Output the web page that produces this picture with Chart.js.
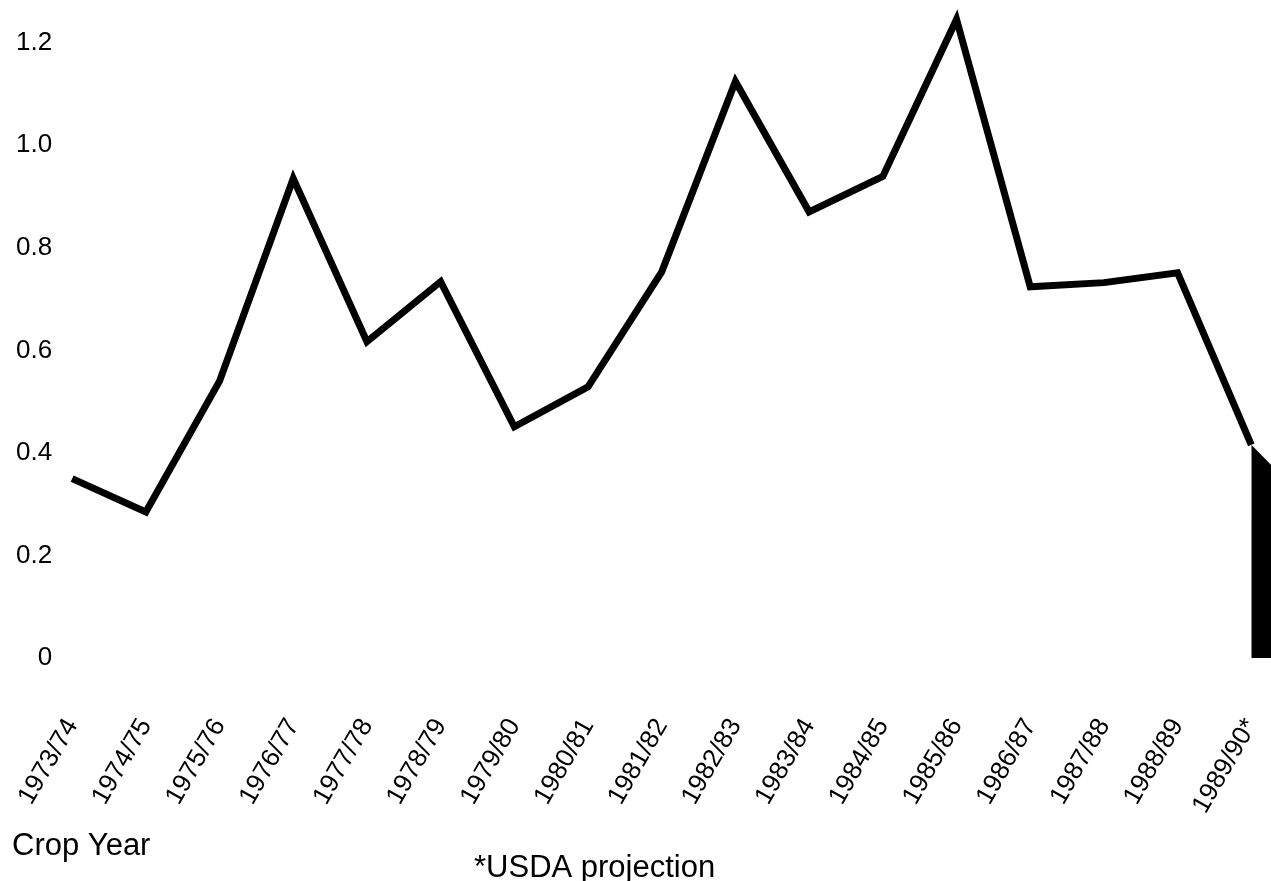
<!DOCTYPE html>
<html>
<head>
<meta charset="utf-8">
<script src="https://cdn.jsdelivr.net/npm/chart.js@4.4.1/dist/chart.umd.min.js"></script>
<style>
  html, body { margin: 0; padding: 0; background: #fff; overflow: hidden; }
  #wrap { width: 1325px; height: 881px; }
</style>
</head>
<body>
<div id="wrap"><canvas id="cropChart" width="1325" height="881"></canvas></div>
<script>
// last category is blank: the projection block runs off the right edge
const cropYears = ['1973/74', '1974/75', '1975/76', '1976/77', '1977/78', '1978/79',
    '1979/80', '1980/81', '1981/82', '1982/83', '1983/84', '1984/85', '1985/86',
    '1986/87', '1987/88', '1988/89', '1989/90*', ''];
const ratioValues = [0.35, 0.285, 0.54, 0.935, 0.617, 0.734, 0.451, 0.529, 0.753,
    1.124, 0.87, 0.939, 1.245, 0.724, 0.732, 0.751, 0.416, null];
const projectionValues = [null, null, null, null, null, null, null, null, null,
    null, null, null, null, null, null, null, 0.416, 0.27];
const yTicks = [0, 0.2, 0.4, 0.6, 0.8, 1.0, 1.2];
const xTitle = 'Crop Year';
const footNote = '*USDA projection';

const FONT = '"Liberation Sans", Arial, Helvetica, sans-serif';

const notesPlugin = {
    id: 'notes',
    afterDraw(chart) {
        const ctx = chart.ctx;
        ctx.save();
        ctx.fillStyle = '#000';
        ctx.textBaseline = 'alphabetic';
        ctx.textAlign = 'left';
        ctx.font = '31px ' + FONT;
        ctx.fillText(xTitle, 12, 855);
        ctx.fillText(footNote, 474, 877);
        ctx.restore();
    }
};

const ctx = document.getElementById('cropChart').getContext('2d');

new Chart(ctx, {
    type: 'line',
    data: {
        labels: cropYears,
        datasets: [{
            data: projectionValues,
            borderWidth: 0,
            borderColor: '#000',
            backgroundColor: '#000',
            fill: 'origin',
            pointRadius: 0,
            tension: 0
        }, {
            data: ratioValues,
            borderColor: '#000',
            borderWidth: 7,
            borderJoinStyle: 'miter',
            fill: false,
            pointRadius: 0,
            tension: 0,
            clip: false
        }]
    },
    options: {
        responsive: false,
        animation: false,
        layout: {
            padding: { left: 4, top: 0, right: 0, bottom: 58 }
        },
        plugins: {
            legend: { display: false },
            tooltip: { enabled: false }
        },
        scales: {
            x: {
                offset: false,
                grid: { display: false, drawTicks: true, tickLength: 51 },
                border: { display: false },
                afterFit: scale => {
                    // rotated labels hang left of their tick, no side padding wanted
                    scale.paddingLeft = 0;
                    scale.paddingRight = 0;
                },
                ticks: {
                    autoSkip: false,
                    minRotation: 60,
                    maxRotation: 60,
                    padding: 4,
                    color: '#000',
                    font: { family: FONT, size: 26 }
                }
            },
            y: {
                min: 0,
                max: 1.229,
                grid: { display: false },
                border: { display: false },
                afterBuildTicks: scale => {
                    scale.ticks = yTicks.map(v => ({ value: v }));
                },
                ticks: {
                    padding: 12,
                    color: '#000',
                    font: { family: FONT, size: 26 },
                    callback: v => v === 0 ? '0' : v.toFixed(1)
                }
            }
        }
    },
    plugins: [notesPlugin]
});
</script>
</body>
</html>
